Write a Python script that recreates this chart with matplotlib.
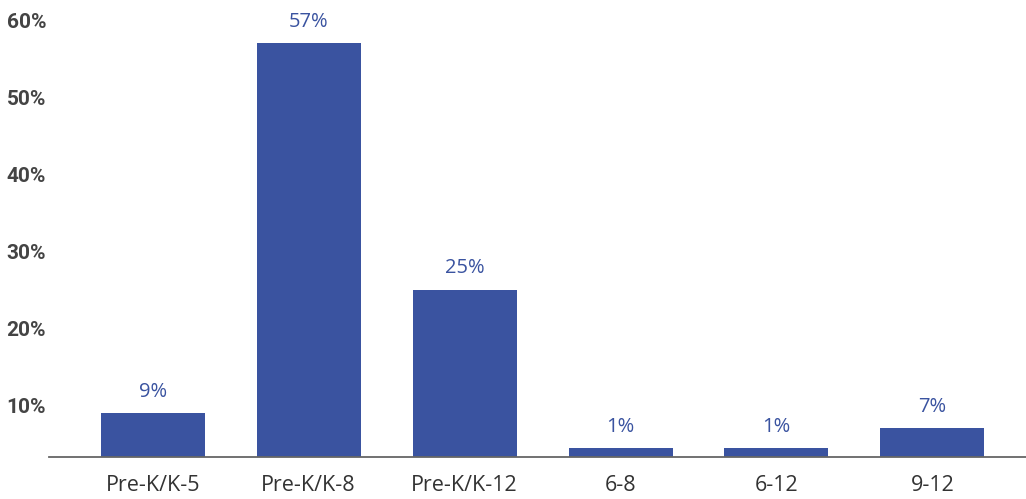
import numpy as np
import matplotlib
matplotlib.use("Agg")
import matplotlib.pyplot as plt

grades = ["Pre-K/K-5", "Pre-K/K-8", "Pre-K/K-12", "6-8", "6-12", "9-12"]
shares = [9, 57, 25, 1, 1, 7]          # percent of schools
yticks = [10, 20, 30, 40, 50, 60]

BAR = "#3A53A0"
Y_LO, Y_HI = 3.25, 62.6

fig = plt.figure(figsize=(10.26, 4.99), dpi=100)
ax = fig.add_axes([49 / 1026, 42 / 499, 1 - 49 / 1026, 457 / 499])

x = np.arange(len(grades))
vals = np.array(shares, dtype=float)
# tiny shares sit below the axis floor, so give them a small visible stub
shown = np.maximum(vals, Y_LO + 1.15)
ax.bar(x, shown, width=0.667, color=BAR, zorder=2)

for xi, top, v in zip(x, shown, shares):
    ax.annotate(f"{v}%", (xi, top), xytext=(0, 8), textcoords="offset points",
                ha="center", va="bottom", color=BAR, fontsize=14.5,
                family=["Open Sans", "DejaVu Sans"])

ax.set_xlim(-0.665, 5.6)
ax.set_ylim(Y_LO, Y_HI)

ax.set_yticks(yticks)
ax.set_yticklabels([f"{t}%" for t in yticks])
ax.set_xticks(x)
ax.set_xticklabels(grades)

for s in ["top", "right", "left"]:
    ax.spines[s].set_visible(False)
ax.spines["bottom"].set_color("#666666")
ax.spines["bottom"].set_linewidth(1.3)
ax.spines["bottom"].set_zorder(3)

ax.tick_params(axis="both", length=0)
ax.tick_params(axis="y", pad=2)
ax.tick_params(axis="x", pad=13)
for lab in ax.get_yticklabels():
    lab.set_family(["Roboto", "DejaVu Sans"])
    lab.set_fontweight("bold")
    lab.set_fontsize(15)
    lab.set_color("#444444")
for lab in ax.get_xticklabels():
    lab.set_family(["Open Sans", "DejaVu Sans"])
    lab.set_fontsize(15.5)
    lab.set_color("#333333")

fig.savefig("out.png", dpi=100)
